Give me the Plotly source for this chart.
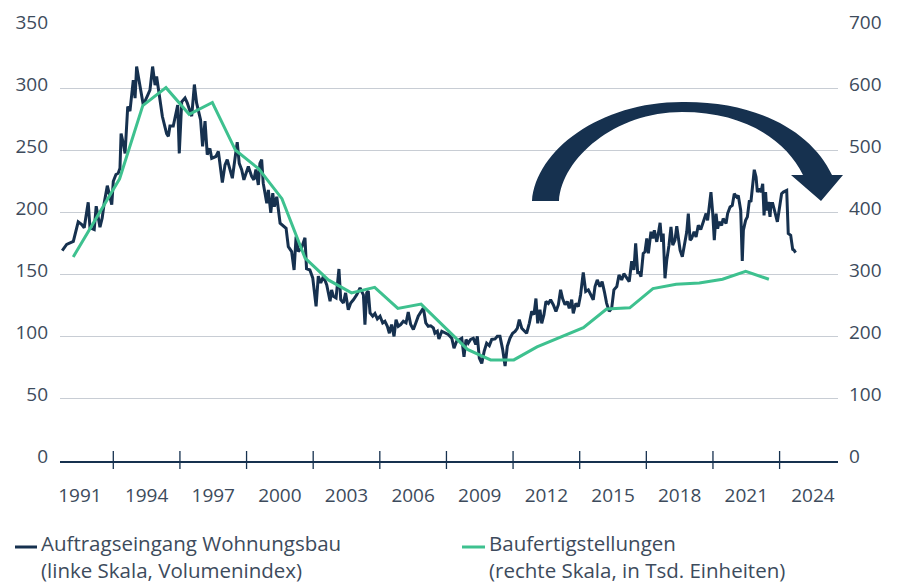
import plotly.graph_objects as go

# ---------------- data ----------------
# Auftragseingang Wohnungsbau (linke Skala, Volumenindex) – decimal years / index values
auftrag_t = [
    1990.20, 1990.40, 1990.70, 1990.92, 1991.08, 1991.19, 1991.37, 1991.45, 1991.64, 1991.73,
    1991.90, 1992.00, 1992.09, 1992.23, 1992.43, 1992.50, 1992.62, 1992.72, 1992.80, 1992.85,
    1992.95, 1993.03, 1993.15, 1993.25, 1993.40, 1993.48, 1993.55, 1993.66, 1993.75, 1993.85,
    1994.05, 1994.15, 1994.27, 1994.38, 1994.45, 1994.56, 1994.65, 1994.71, 1994.90, 1994.98,
    1995.05, 1995.20, 1995.40, 1995.47, 1995.58, 1995.73, 1995.83, 1996.03, 1996.15, 1996.25,
    1996.43, 1996.52, 1996.63, 1996.73, 1996.85, 1996.93, 1997.12, 1997.23, 1997.41, 1997.53,
    1997.63, 1997.75, 1997.86, 1997.98, 1998.08, 1998.17, 1998.28, 1998.38, 1998.47, 1998.58,
    1998.73, 1998.83, 1998.92, 1999.03, 1999.10, 1999.18, 1999.25, 1999.41, 1999.48, 1999.59,
    1999.68, 1999.75, 1999.86, 1999.93, 2000.01, 2000.28, 2000.38, 2000.53, 2000.64, 2000.73,
    2000.83, 2000.98, 2001.13, 2001.20, 2001.35, 2001.48, 2001.63, 2001.73, 2001.84, 2001.96,
    2002.11, 2002.26, 2002.33, 2002.41, 2002.53, 2002.66, 2002.74, 2002.86, 2002.96, 2003.08,
    2003.19, 2003.31, 2003.46, 2003.61, 2003.76, 2003.83, 2003.91, 2003.98, 2004.06, 2004.18,
    2004.28, 2004.39, 2004.51, 2004.63, 2004.73, 2004.84, 2004.93, 2005.03, 2005.14, 2005.23,
    2005.33, 2005.44, 2005.56, 2005.68, 2005.78, 2005.89, 2006.01, 2006.12, 2006.23, 2006.46,
    2006.57, 2006.68, 2006.79, 2006.91, 2006.98, 2007.09, 2007.16, 2007.29, 2007.43, 2007.58,
    2007.74, 2007.84, 2007.96, 2008.19, 2008.29, 2008.38, 2008.48, 2008.59, 2008.71, 2008.82,
    2008.89, 2008.98, 2009.09, 2009.20, 2009.31, 2009.43, 2009.54, 2009.69, 2009.79, 2009.91,
    2010.03, 2010.14, 2010.24, 2010.36, 2010.48, 2010.59, 2010.69, 2010.78, 2010.89, 2011.11,
    2011.23, 2011.34, 2011.44, 2011.53, 2011.61, 2011.71, 2011.79, 2011.89, 2011.98, 2012.09,
    2012.19, 2012.31, 2012.43, 2012.54, 2012.64, 2012.73, 2012.84, 2012.94, 2013.03, 2013.14,
    2013.21, 2013.33, 2013.44, 2013.54, 2013.66, 2013.77, 2013.89, 2013.99, 2014.11, 2014.19,
    2014.29, 2014.41, 2014.51, 2014.61, 2014.71, 2014.83, 2014.94, 2015.04, 2015.17, 2015.27,
    2015.39, 2015.49, 2015.62, 2015.73, 2015.84, 2015.94, 2016.02, 2016.11, 2016.18, 2016.26,
    2016.36, 2016.44, 2016.52, 2016.59, 2016.71, 2016.79, 2016.86, 2016.97, 2017.04, 2017.12,
    2017.19, 2017.26, 2017.34, 2017.42, 2017.52, 2017.61, 2017.69, 2017.79, 2017.87, 2017.94,
    2018.02, 2018.12, 2018.21, 2018.32, 2018.39, 2018.47, 2018.54, 2018.65, 2018.74, 2018.84,
    2018.95, 2019.04, 2019.11, 2019.19, 2019.26, 2019.33, 2019.41, 2019.49, 2019.56, 2019.64,
    2019.71, 2019.78, 2019.89, 2019.96, 2020.09, 2020.16, 2020.27, 2020.37, 2020.46, 2020.57,
    2020.64, 2020.75, 2020.82, 2020.87, 2020.97, 2021.05, 2021.14, 2021.21, 2021.29, 2021.36,
    2021.44, 2021.50, 2021.59, 2021.66, 2021.74, 2021.80, 2021.87, 2021.92, 2021.99, 2022.07,
    2022.11, 2022.19, 2022.25, 2022.34, 2022.40, 2022.49, 2022.59, 2022.67, 2022.82, 2022.89,
    2023.00, 2023.09, 2023.15, 2023.22,
]
auftrag_v = [
    169.7, 174.6, 177.0, 192.8, 190.6, 188.0, 208.6, 188.0, 186.6, 205.4,
    188.5, 196.0, 208.0, 222.0, 206.7, 225.5, 231.0, 232.0, 236.0, 264.0,
    256.0, 248.0, 285.8, 282.0, 307.0, 292.5, 318.0, 306.0, 298.0, 287.0,
    295.0, 299.0, 318.0, 303.0, 310.0, 296.5, 284.0, 277.7, 264.0, 261.7,
    270.0, 270.0, 287.0, 248.0, 289.5, 292.7, 288.7, 278.0, 303.5, 288.7,
    275.0, 253.6, 274.0, 247.0, 252.0, 244.0, 245.5, 249.6, 224.5, 238.8,
    243.0, 236.0, 228.0, 244.0, 257.0, 240.0, 234.8, 226.7, 232.0, 237.5,
    229.4, 226.7, 235.0, 222.6, 240.0, 243.0, 224.0, 207.8, 218.6, 200.0,
    216.0, 205.0, 213.0, 201.0, 191.7, 187.6, 172.8, 168.8, 154.0, 181.0,
    168.8, 172.0, 180.0, 155.0, 154.0, 147.6, 124.7, 149.0, 143.5, 149.0,
    142.0, 128.8, 138.0, 132.8, 131.5, 154.8, 130.0, 127.4, 135.5, 122.0,
    127.4, 130.0, 134.0, 139.5, 134.0, 110.0, 135.5, 137.0, 119.4, 116.7,
    118.8, 114.5, 116.7, 111.3, 112.6, 108.6, 103.0, 110.0, 100.5, 114.0,
    108.6, 110.0, 112.6, 111.3, 120.0, 110.0, 106.0, 111.3, 116.7, 123.4,
    111.3, 108.6, 109.0, 107.3, 103.0, 104.6, 98.4, 104.6, 103.0, 102.0,
    99.0, 91.0, 96.5, 99.0, 84.0, 97.9, 95.0, 98.0, 99.0, 94.0,
    100.5, 83.0, 78.6, 88.5, 95.0, 93.0, 98.0, 98.4, 100.5, 100.5,
    90.0, 76.5, 92.5, 99.0, 103.0, 104.5, 107.0, 114.0, 107.0, 103.0,
    111.0, 120.6, 118.0, 131.0, 111.0, 122.0, 111.0, 118.0, 128.6, 127.0,
    130.0, 126.0, 120.6, 126.0, 138.0, 131.0, 126.0, 128.6, 123.0, 130.0,
    119.0, 127.0, 124.6, 134.0, 152.0, 136.6, 138.0, 134.0, 130.0, 140.6,
    146.0, 140.6, 144.6, 136.6, 127.3, 120.6, 123.3, 138.0, 140.6, 150.0,
    146.0, 151.0, 147.0, 144.6, 161.0, 154.0, 175.4, 152.0, 152.0, 148.7,
    167.4, 168.7, 179.4, 167.4, 184.8, 179.4, 186.0, 176.7, 183.4, 192.0,
    176.7, 183.4, 147.3, 162.0, 174.0, 188.8, 174.0, 178.0, 189.3, 179.4,
    170.0, 164.7, 172.7, 184.8, 199.5, 178.0, 179.4, 184.8, 180.7, 190.0,
    186.6, 191.4, 196.8, 199.5, 194.0, 206.0, 216.8, 199.5, 178.0, 199.5,
    187.4, 192.8, 190.0, 195.5, 191.4, 199.5, 204.8, 206.0, 215.5, 212.8,
    214.0, 202.0, 161.2, 186.0, 194.0, 196.8, 210.0, 209.0, 223.5, 234.8,
    229.0, 216.8, 219.6, 216.8, 223.5, 198.0, 216.8, 202.0, 208.8, 196.8,
    207.5, 207.5, 203.5, 195.5, 192.8, 203.5, 215.5, 216.8, 218.2, 183.4,
    182.0, 170.6, 170.0, 168.0,
]

# Baufertigstellungen (rechte Skala, in Tsd. Einheiten) – annual values
fertig_jahre = list(range(1991, 2022))
fertig_v = [
    329, 392, 455, 573, 602, 559, 578, 501, 471, 423,
    327, 292, 271, 280, 246, 253, 216, 180, 163, 163,
    184, 200, 215, 245, 247, 278, 285, 287, 293, 306,
    293,
]

x_label_years = [1991, 1994, 1997, 2000, 2003, 2006, 2009, 2012, 2015, 2018, 2021, 2024]
x_label_text = [str(y) for y in x_label_years]
left_ticks = [0, 50, 100, 150, 200, 250, 300, 350]
right_ticks = [0, 100, 200, 300, 400, 500, 600, 700]

name_a = "Auftragseingang Wohnungsbau"
sub_a = "(linke Skala, Volumenindex)"
name_b = "Baufertigstellungen"
sub_b = "(rechte Skala, in Tsd. Einheiten)"

# ---------------- style ----------------
NAVY = "#16314f"
GREEN = "#3ec18f"
TEXT = "#3d4b5c"
GRID = "#c8cdd4"
FONT = "Open Sans"
OFF = 8                      # page body margin of the html page
W, H = 903 - OFF, 585 - OFF
ML, MR, MT, MB = 60 - OFF, 65, 26 - OFF, 124
PW, PH = W - ML - MR, H - MT - MB
TOP_PAD = 1.002              # keeps the top tick inside the range


def px2paper(px, py):
    # screen pixel (window coordinates) -> paper coordinates
    return (px - OFF - ML) / PW, (H - MB - (py - OFF)) / PH


fig = go.Figure()
fig.add_trace(go.Scatter(x=auftrag_t, y=auftrag_v, mode="lines", name=name_a,
                         line=dict(color=NAVY, width=3), showlegend=False,
                         xaxis="x", yaxis="y"))
fig.add_trace(go.Scatter(x=fertig_jahre, y=fertig_v, mode="lines", name=name_b,
                         line=dict(color=GREEN, width=3), showlegend=False,
                         xaxis="x2", yaxis="y2"))

shapes = []
# x-axis tick marks between the year labels
for y in x_label_years[:-1]:
    shapes.append(dict(type="line", xref="x", yref="paper", x0=y + 1.5, x1=y + 1.5,
                       y0=px2paper(0, 469)[1], y1=px2paper(0, 451)[1],
                       line=dict(color=NAVY, width=1.3), layer="above"))

# curved arrow
arrow_px = [
    ("M", [(532, 201)]),
    ("C", [(536, 150), (600, 102), (682, 102)]),
    ("C", [(758, 101), (812, 132), (832, 175)]),
    ("L", [(843, 175)]),
    ("L", [(821, 201)]),
    ("L", [(791, 175)]),
    ("L", [(803, 175)]),
    ("C", [(786, 140), (745, 112), (682, 112)]),
    ("C", [(615, 112), (562, 158), (559, 201)]),
]
path = ""
for cmd, pts in arrow_px:
    path += cmd + " " + " ".join("%.5f,%.5f" % px2paper(*p) for p in pts) + " "
path += "Z"
shapes.append(dict(type="path", xref="paper", yref="paper", path=path,
                   fillcolor=NAVY, line=dict(width=0), layer="above"))

# legend symbols
for (x0, x1), col in [((15, 37), NAVY), ((462, 485), GREEN)]:
    a0 = px2paper(x0, 547)
    a1 = px2paper(x1, 547)
    shapes.append(dict(type="line", xref="paper", yref="paper", x0=a0[0], x1=a1[0],
                       y0=a0[1], y1=a1[1], line=dict(color=col, width=3)))

annotations = []
for txt, px in [(name_a + "<br>" + sub_a, 40), (name_b + "<br>" + sub_b, 488)]:
    ax, ay = px2paper(px, 585)
    annotations.append(dict(text=txt, xref="paper", yref="paper", x=ax, y=ay,
                            xanchor="left", yanchor="bottom", align="left",
                            showarrow=False, borderpad=0,
                            font=dict(family=FONT, size=20.5, color=TEXT)))

fig.update_layout(
    width=W, height=H,
    margin=dict(l=ML, r=MR, t=MT, b=MB, autoexpand=False),
    paper_bgcolor="white", plot_bgcolor="white",
    font=dict(family=FONT, size=19, color=TEXT),
    xaxis=dict(range=[1990.10, 2025.13], tickvals=x_label_years, ticktext=x_label_text,
               showgrid=False, zeroline=False, ticks="", showline=True,
               linecolor=NAVY, linewidth=1.5, ticklabelstandoff=16, automargin=False,
               tickfont=dict(family=FONT, size=19, color=TEXT)),
    xaxis2=dict(range=[1990.43, 2023.98], overlaying="x", visible=False, anchor="y2"),
    yaxis=dict(range=[0, 350 * TOP_PAD], tickvals=left_ticks, showgrid=True, gridcolor=GRID,
               gridwidth=1, zeroline=False, ticks="", showline=False, automargin=False,
               ticklabelstandoff=11, ticklabelshift=-5, ticklabeloverflow="allow",
               tickfont=dict(family=FONT, size=19, color=TEXT)),
    yaxis2=dict(range=[0, 700 * TOP_PAD], tickvals=right_ticks, overlaying="y", side="right",
                anchor="x2", showgrid=False, zeroline=False, ticks="", showline=False,
                automargin=False, ticklabelstandoff=10, ticklabelshift=-5,
                ticklabeloverflow="allow",
                tickfont=dict(family=FONT, size=19, color=TEXT)),
    shapes=shapes,
    annotations=annotations,
)

fig.write_html("out.html")
